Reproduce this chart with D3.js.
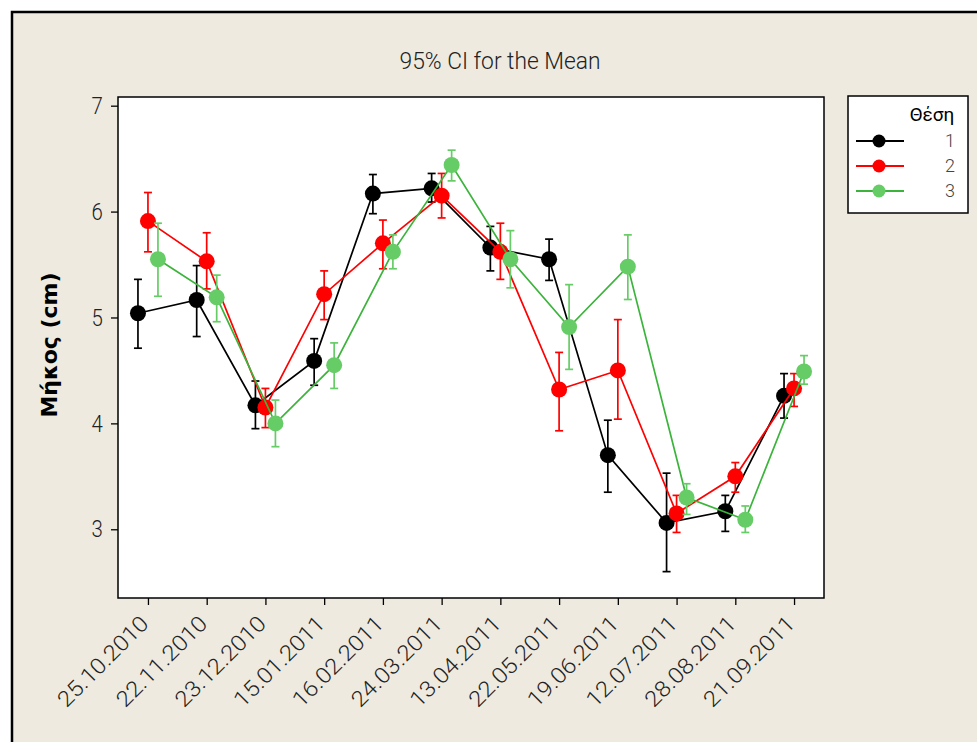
<!DOCTYPE html>
<html><head><meta charset="utf-8">
<script src="https://cdn.jsdelivr.net/npm/d3@7"></script>
<style>
html,body{margin:0;padding:0;background:#fff;}
svg{display:block;}
</style></head>
<body>
<svg id="chart" width="977" height="742"></svg>
<script>
const dates = ["25.10.2010","22.11.2010","23.12.2010","15.01.2011","16.02.2011","24.03.2011","13.04.2011","22.05.2011","19.06.2011","12.07.2011","28.08.2011","21.09.2011"];
const seriesNames = ["1","2","3"];
const yTicks = [3,4,5,6,7];
const mean1 = [5.04,5.165,4.17,4.59,6.17,6.22,5.66,5.55,3.70,3.06,3.17,4.26];
const lo1   = [4.71,4.82,3.95,4.36,5.98,6.09,5.44,5.35,3.35,2.60,2.98,4.05];
const hi1   = [5.36,5.49,4.40,4.80,6.35,6.36,5.86,5.74,4.03,3.53,3.32,4.47];
const mean2 = [5.91,5.53,4.15,5.22,5.70,6.15,5.62,4.32,4.50,3.15,3.50,4.33];
const lo2   = [5.62,5.27,3.96,4.98,5.46,5.94,5.36,3.93,4.04,2.97,3.35,4.16];
const hi2   = [6.18,5.80,4.33,5.44,5.92,6.36,5.89,4.67,4.98,3.32,3.63,4.47];
const mean3 = [5.55,5.19,4.00,4.55,5.62,6.44,5.55,4.91,5.48,3.30,3.09,4.49];
const lo3   = [5.20,4.96,3.78,4.33,5.46,6.29,5.28,4.51,5.17,3.14,2.97,4.37];
const hi3   = [5.89,5.40,4.22,4.76,5.78,6.58,5.82,5.31,5.78,3.43,3.22,4.64];

const series = [
  {name:"1", mean:mean1, lo:lo1, hi:hi1, line:"#000000", marker:"#000000", err:"#000000"},
  {name:"2", mean:mean2, lo:lo2, hi:hi2, line:"#ff0000", marker:"#ff0000", err:"#ff0000"},
  {name:"3", mean:mean3, lo:lo3, hi:hi3, line:"#3cb43c", marker:"#66cc66", err:"#66cc66"}
];

const FONT = "Roboto,'Liberation Sans',sans-serif";
const svg = d3.select("#chart");

// outer frame
svg.append("rect").attr("x",12).attr("y",12).attr("width",1000).attr("height",800)
  .attr("fill","#eeeae0").attr("stroke","#000").attr("stroke-width",2.5);

const L=118, R=824, T=97, B=598;
const x = d3.scalePoint().domain(dates).range([L,R]).padding(0.51);
const dx = d3.scalePoint().domain(seriesNames).range([-10,10]);
const y = d3.scaleLinear().domain([2.351,7.082]).range([B,T]);

svg.append("rect").attr("x",L).attr("y",T).attr("width",R-L).attr("height",B-T)
  .attr("fill","#fff").attr("stroke","#000").attr("stroke-width",1.5);

// title
svg.append("text").attr("x",500).attr("y",69).attr("text-anchor","middle")
  .attr("font-family",FONT).attr("font-weight",300).attr("font-size",24).attr("fill","#222")
  .attr("textLength",201).attr("lengthAdjust","spacingAndGlyphs")
  .text("95% CI for the Mean");

// y axis
const yAxis = svg.append("g").attr("transform",`translate(${L},0)`)
  .call(d3.axisLeft(y).tickValues(yTicks).tickSize(7).tickPadding(8).tickFormat(d3.format("d")));
yAxis.select(".domain").remove();
yAxis.selectAll(".tick line").attr("stroke","#000").attr("stroke-width",1.3);
yAxis.selectAll(".tick text").attr("font-family",FONT).attr("font-weight",300).attr("font-size",24)
  .attr("fill","#222").attr("transform","scale(0.85,1)").attr("x",-18);

// x axis
const xAxis = svg.append("g").attr("transform",`translate(0,${B})`)
  .call(d3.axisBottom(x).tickSize(7).tickFormat(""));
xAxis.select(".domain").remove();
xAxis.selectAll(".tick line").attr("stroke","#000").attr("stroke-width",1.3);
svg.append("g").selectAll("text").data(dates).join("text")
  .attr("transform",d=>`translate(${x(d)+2},${B+27}) rotate(-45)`)
  .attr("text-anchor","end")
  .attr("font-family",FONT).attr("font-weight",300).attr("font-size",22).attr("fill","#222")
  .attr("textLength",118).attr("lengthAdjust","spacingAndGlyphs")
  .text(d=>d);

// y label
svg.append("text").attr("transform",`translate(57,345) rotate(-90)`)
  .attr("text-anchor","middle").attr("font-family","'DejaVu Sans',sans-serif")
  .attr("font-weight","bold").attr("font-size",22).attr("fill","#000")
  .text("Μήκος (cm)");

// series
const line = d3.line();
series.forEach(s=>{
  const g = svg.append("g");
  const pts = dates.map((d,i)=>[x(d)+dx(s.name), y(s.mean[i])]);
  g.append("path").attr("d",line(pts)).attr("fill","none").attr("stroke",s.line).attr("stroke-width",1.7);
  const eb = g.selectAll("g.eb").data(dates).join("g");
  eb.append("line").attr("x1",(d)=>x(d)+dx(s.name)).attr("x2",(d)=>x(d)+dx(s.name))
    .attr("y1",(d,i)=>y(s.lo[i])).attr("y2",(d,i)=>y(s.hi[i])).attr("stroke",s.err).attr("stroke-width",1.7);
  eb.append("line").attr("x1",(d)=>x(d)+dx(s.name)-4).attr("x2",(d)=>x(d)+dx(s.name)+4)
    .attr("y1",(d,i)=>y(s.lo[i])).attr("y2",(d,i)=>y(s.lo[i])).attr("stroke",s.err).attr("stroke-width",1.7);
  eb.append("line").attr("x1",(d)=>x(d)+dx(s.name)-4).attr("x2",(d)=>x(d)+dx(s.name)+4)
    .attr("y1",(d,i)=>y(s.hi[i])).attr("y2",(d,i)=>y(s.hi[i])).attr("stroke",s.err).attr("stroke-width",1.7);
  g.selectAll("circle").data(dates).join("circle")
    .attr("cx",(d)=>x(d)+dx(s.name)).attr("cy",(d,i)=>y(s.mean[i])).attr("r",8).attr("fill",s.marker);
});

// legend
const lg = svg.append("g");
lg.append("rect").attr("x",848).attr("y",96).attr("width",120).attr("height",117)
  .attr("fill","#fff").attr("stroke","#000").attr("stroke-width",1.5);
lg.append("text").attr("x",932).attr("y",121).attr("text-anchor","middle")
  .attr("font-family",FONT).attr("font-size",19).attr("fill","#000").text("Θέση");
const rowY = d3.scalePoint().domain(seriesNames).range([141,191]);
series.forEach(s=>{
  const yy = rowY(s.name);
  lg.append("line").attr("x1",856).attr("x2",904).attr("y1",yy).attr("y2",yy).attr("stroke",s.line).attr("stroke-width",2);
  lg.append("circle").attr("cx",879).attr("cy",yy).attr("r",6.5).attr("fill",s.marker);
  lg.append("text").attr("x",955).attr("y",yy+6).attr("text-anchor","end")
    .attr("font-family",FONT).attr("font-weight",300).attr("font-size",18).attr("fill","#444").text(s.name);
});
</script>
</body></html>
